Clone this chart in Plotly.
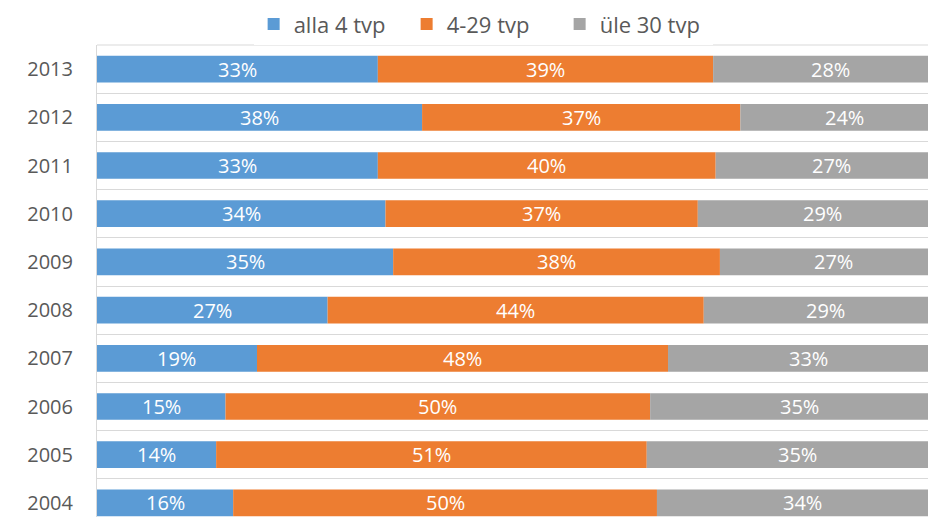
import numpy as np
import plotly.graph_objects as go

years = ["2004", "2005", "2006", "2007", "2008", "2009", "2010", "2011", "2012", "2013"]
alla_4 = [16.0, 14.0, 15.1, 18.8, 27.1, 34.8, 33.9, 33.0, 38.2, 33.0]
tvp_4_29 = [49.8, 50.6, 49.9, 48.3, 44.2, 38.4, 36.7, 39.7, 37.4, 39.4]
ule_30 = [34.2, 35.4, 35.0, 32.9, 28.7, 26.8, 29.4, 27.3, 24.4, 27.6]

series = [
    ("alla 4 tvp", alla_4, "#5B9BD5"),
    ("4-29 tvp", tvp_4_29, "#ED7D31"),
    ("üle 30 tvp", ule_30, "#A5A5A5"),
]

FONT = "Open Sans"
fig = go.Figure()
base = np.zeros(len(years))
annotations = []
for name, vals, color in series:
    v = np.array(vals, dtype=float)
    fig.add_trace(go.Bar(
        y=years, x=v, base=base, name=name, orientation="h",
        marker=dict(color=color, line=dict(width=0)),
        hoverinfo="x+name",
    ))
    mids = base + v / 2
    for i, (m, val) in enumerate(zip(mids, v)):
        annotations.append(dict(
            x=float(m), y=i, xref="x", yref="y", text=f"{val:.0f}%",
            showarrow=False, font=dict(family=FONT, size=20, color="white"),
        ))
    base = base + v

fig.update_layout(
    width=928, height=509, autosize=False,
    margin=dict(l=89, r=0, t=37, b=0, autoexpand=False),
    paper_bgcolor="white", plot_bgcolor="white",
    barmode="overlay", bargap=0.446,
    annotations=annotations,
    showlegend=True,
    legend=dict(
        orientation="h", xref="container", yref="container",
        x=0.512, xanchor="center", y=0.968, yanchor="middle",
        font=dict(family=FONT, size=22, color="#595959"),
        itemwidth=30, entrywidth=108, traceorder="normal",
    ),
    xaxis=dict(
        range=[0, 100 * 839 / 851], showticklabels=False, showgrid=False,
        zeroline=False, ticks="", fixedrange=True, automargin=False,
    ),
    yaxis=dict(
        type="category", categoryorder="array", categoryarray=years,
        range=[-0.292, 9.5], tickson="boundaries", showgrid=True,
        gridcolor="#d9d9d9", gridwidth=1, showline=True, linecolor="#d9d9d9",
        linewidth=1, ticks="", ticklabelstandoff=19, automargin=False,
        tickfont=dict(family=FONT, size=20, color="#595959"),
    ),
    shapes=[dict(type="line", xref="paper", yref="paper", x0=0, x1=1, y0=1, y1=1,
                 line=dict(color="#d9d9d9", width=1), layer="below")],
)

fig.write_html("out.html", config={"responsive": False})
